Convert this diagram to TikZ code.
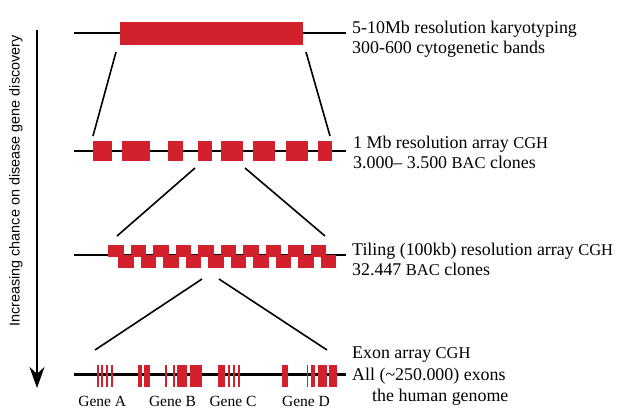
\documentclass[tikz,border=0pt]{standalone}
\usepackage{fontspec}
\setmainfont{Liberation Serif}
\newfontfamily\sidefont{Liberation Sans}
\usetikzlibrary{arrows.meta}
\definecolor{exonred}{RGB}{210,32,44}
\tikzset{
  chrom/.style={line width=2.2pt},
  probe/.style={fill=exonred,draw=none},
  zoomline/.style={line width=1.6pt},
  reslabel/.style={anchor=base west,inner sep=0pt,font=\fontsize{17.9}{20}\selectfont},
  genelabel/.style={anchor=base,inner sep=0pt,font=\fontsize{15.5}{18}\selectfont},
}
\newcommand{\chipname}[1]{{\fontsize{16.5}{18}\selectfont #1}}

\begin{document}
\begin{tikzpicture}[x=1pt,y=-1pt]
  \useasboundingbox (0,0) rectangle (620,408);

  \coordinate (atop) at (37,30);
  \coordinate (abot) at (37,388);
  \draw[line width=2.6pt,-{Stealth[length=21pt,width=15pt]}] (atop) -- (abot);
  \node (side) [rotate=90,inner sep=0pt,font=\sidefont\fontsize{14.4}{17}\selectfont]
    at (16,181) {Increasing chance on disease gene discovery};

  \draw[chrom] (74,33) coordinate (ka) -- (346,33) coordinate (kb);
  \fill[probe] (120,22) rectangle (303,45);
  \node (k1) [reslabel] at (352,33) {5-10Mb resolution karyotyping};
  \node (k2) [reslabel] at (352,53) {300-600 cytogenetic bands};

  \coordinate (kl) at (116,52);
  \coordinate (kr) at (306,52);
  \coordinate (bl) at (93,136);
  \coordinate (br) at (330,136);
  \draw[zoomline] (kl) -- (bl);
  \draw[zoomline] (kr) -- (br);

  \draw[chrom] (74,151) coordinate (ba) -- (346,151) coordinate (bb);
  \foreach \a/\b in {93/112,122/150,168/183,198/212,221/243,253/275,286/308,318/332}
    \fill[probe] (\a,141) rectangle (\b,161);
  \node (b1) [reslabel] at (353,148) {1 Mb resolution array \chipname{CGH}};
  \node (b2) [reslabel] at (353,168.5) {3.000-- 3.500 \chipname{BAC} clones};

  \coordinate (bdl) at (195,168);
  \coordinate (bdr) at (245,168);
  \coordinate (tl) at (117,236);
  \coordinate (tr) at (325,236);
  \draw[zoomline] (bdl) -- (tl);
  \draw[zoomline] (bdr) -- (tr);

  \draw[chrom] (74,255) coordinate (ta) -- (346,255) coordinate (tb);
  \foreach \i in {0,...,9} {
    \fill[probe] (108+\i*22.5,244.5) rectangle ++(15.5,12.5);
    \fill[probe] (118+\i*22.5,255) rectangle ++(15.5,13);
  }
  \node (t1) [reslabel] at (352,255) {Tiling (100kb) resolution array \chipname{CGH}};
  \node (t2) [reslabel] at (352,275) {32.447 \chipname{BAC} clones};

  \coordinate (tdl) at (202,279);
  \coordinate (tdr) at (219,279);
  \coordinate (el) at (95,350);
  \coordinate (er) at (327,350);
  \draw[zoomline] (tdl) -- (el);
  \draw[zoomline] (tdr) -- (er);

  \draw[line width=3.2pt] (74,374.5) coordinate (ea) -- (346,374.5) coordinate (eb);
  \foreach \a/\b in {97.2/98.6,101.2/102.6,106.2/107.6,111.2/112.6,
      137.5/141.5,144/150,165/166.5,173/175,177/186.5,190/201.5,
      217.5/225,228/229.5,233/234.5,238/239.5,
      281.5/287.5,306.5/308,310.5/315,317.5/326.5,329/336.5}
    \fill[probe] (\a,365) rectangle (\b,387);
  \node (e1) [reslabel] at (352,358.5) {Exon array \chipname{CGH}};
  \node (e2) [reslabel] at (352,380) {All (\textasciitilde250.000) exons};
  \node (e3) [reslabel] at (372,401.5) {the human genome};

  \node (ga) [genelabel] at (102.3,406) {Gene A};
  \node (gb) [genelabel] at (172.5,406) {Gene B};
  \node (gc) [genelabel] at (233,406) {Gene C};
  \node (gd) [genelabel] at (306,406) {Gene D};
\end{tikzpicture}
\end{document}
